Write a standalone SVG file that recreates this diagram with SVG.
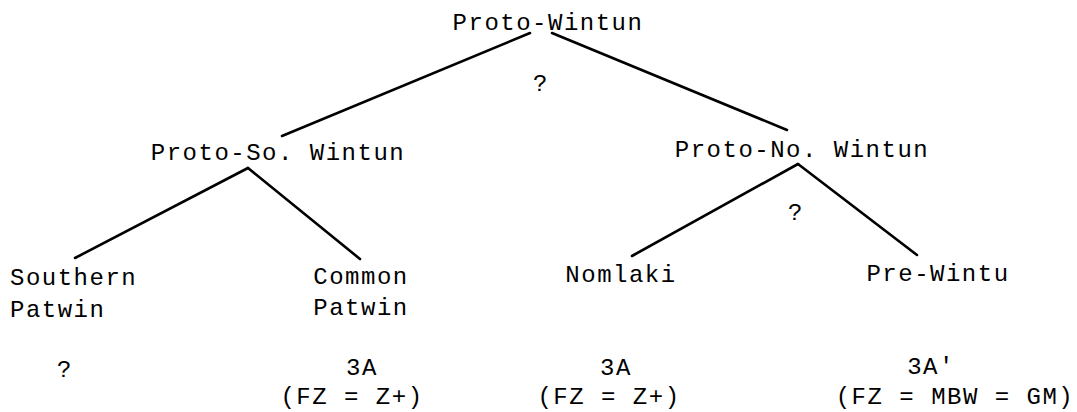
<svg xmlns="http://www.w3.org/2000/svg" width="1077" height="412" viewBox="0 0 1077 412">
<style>
text{font-family:"Liberation Mono","DejaVu Sans Mono",monospace;font-size:24px;letter-spacing:1.5px;fill:#000;text-anchor:middle}
.st{text-anchor:start}
line{stroke:#000;stroke-width:2.6;stroke-linecap:round}
</style>
<rect width="1077" height="412" fill="#fff"/>
<g id="connectors">
<line x1="530" y1="33" x2="282" y2="136"/>
<line x1="552" y1="33" x2="787" y2="130"/>
<line x1="248" y1="168" x2="75" y2="258"/>
<line x1="248" y1="168" x2="360" y2="259"/>
<line x1="798" y1="164" x2="632" y2="256"/>
<line x1="798" y1="164" x2="917" y2="255"/>
</g>
<g id="proto-wintun"><text x="548" y="30">Proto-Wintun</text></g>
<g id="q-top"><text x="541" y="91">?</text></g>
<g id="proto-so-wintun"><text x="278" y="160">Proto-So. Wintun</text></g>
<g id="proto-no-wintun"><text x="802" y="157">Proto-No. Wintun</text></g>
<g id="q-no"><text x="796" y="220">?</text></g>
<g id="southern-patwin"><text class="st" x="10" y="285">Southern</text><text class="st" x="10" y="317">Patwin</text></g>
<g id="common-patwin"><text x="361" y="284">Common</text><text x="361" y="315">Patwin</text></g>
<g id="nomlaki"><text x="621" y="282">Nomlaki</text></g>
<g id="pre-wintu"><text x="938" y="281">Pre-Wintu</text></g>
<g id="type-southern"><text x="65" y="377">?</text></g>
<g id="type-common"><text x="362" y="375">3A</text><text x="352" y="404">(FZ = Z+)</text></g>
<g id="type-nomlaki"><text x="616" y="375">3A</text><text x="609" y="404">(FZ = Z+)</text></g>
<g id="type-prewintu"><text x="931" y="374">3A'</text><text x="955" y="404">(FZ = MBW = GM)</text></g>
</svg>
